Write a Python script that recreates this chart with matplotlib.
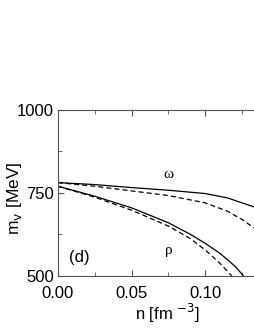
import numpy as np
import matplotlib
matplotlib.use("Agg")
import matplotlib.pyplot as plt
from matplotlib.ticker import MultipleLocator

plt.rcParams['font.family'] = ['Liberation Sans', 'DejaVu Sans']

# density grid [fm^-3] and masses [MeV]
n_omega = [0.000, 0.025, 0.050, 0.075, 0.100, 0.115, 0.125, 0.137]
omega_solid = [781, 775, 766, 758, 748, 735, 720, 702]
omega_dash = [781, 770, 756, 742, 720, 695, 670, 632]

n_rho_solid = [0.000, 0.025, 0.050, 0.075, 0.090, 0.100, 0.110, 0.120, 0.126]
rho_solid = [770, 740, 705, 660, 625, 598, 568, 530, 500]

n_rho_dash = [0.000, 0.025, 0.050, 0.075, 0.090, 0.100, 0.110, 0.118]
rho_dash = [770, 737, 698, 650, 612, 578, 538, 500]

fig = plt.figure(figsize=(2.55, 3.3), dpi=100)
# the panel runs past the right edge of the picture
ax = fig.add_axes([0.227, 0.164, 0.855, 0.503])

ax.plot(n_omega, omega_solid, color='black', lw=0.9)
ax.plot(n_omega, omega_dash, color='black', lw=0.9, ls=(0, (4, 2.5)))
ax.plot(n_rho_solid, rho_solid, color='black', lw=0.9)
ax.plot(n_rho_dash, rho_dash, color='black', lw=0.9, ls=(0, (4, 2.5)))

ax.text(0.075, 806, '\u03c9', fontsize=11, ha='center', va='center',
        family='Liberation Serif')
ax.text(0.075, 575, '\u03c1', fontsize=11, ha='center', va='center',
        family='Liberation Serif')
ax.text(0.0145, 555, '(d)', fontsize=12, ha='center', va='center')

ax.set_xlim(0, 0.148)
ax.set_ylim(500, 1000)
ax.set_xticks([0.00, 0.05, 0.10])
ax.set_xticklabels(['0.00', '0.05', '0.10'])
ax.set_yticks([500, 750, 1000])
ax.xaxis.set_minor_locator(MultipleLocator(0.025))
ax.yaxis.set_minor_locator(MultipleLocator(125))
ax.tick_params(which='both', direction='in', top=True, labelsize=12,
               color='#555555')
ax.tick_params(axis='x', pad=7)
ax.tick_params(axis='y', pad=3)
ax.tick_params(which='major', length=4)
ax.tick_params(which='minor', length=3)
for side in ['left', 'bottom', 'top']:
    ax.spines[side].set_color('#555555')
    ax.spines[side].set_linewidth(0.8)
ax.spines['right'].set_visible(False)

ax.set_xlabel(r'n [fm $^{-3}$]', fontsize=12, labelpad=1)
ax.set_ylabel(r'm$_{\rm v}$ [MeV]', fontsize=12.5)
ax.yaxis.set_label_coords(-0.155, 0.47)

fig.savefig('out.png', dpi=100)
